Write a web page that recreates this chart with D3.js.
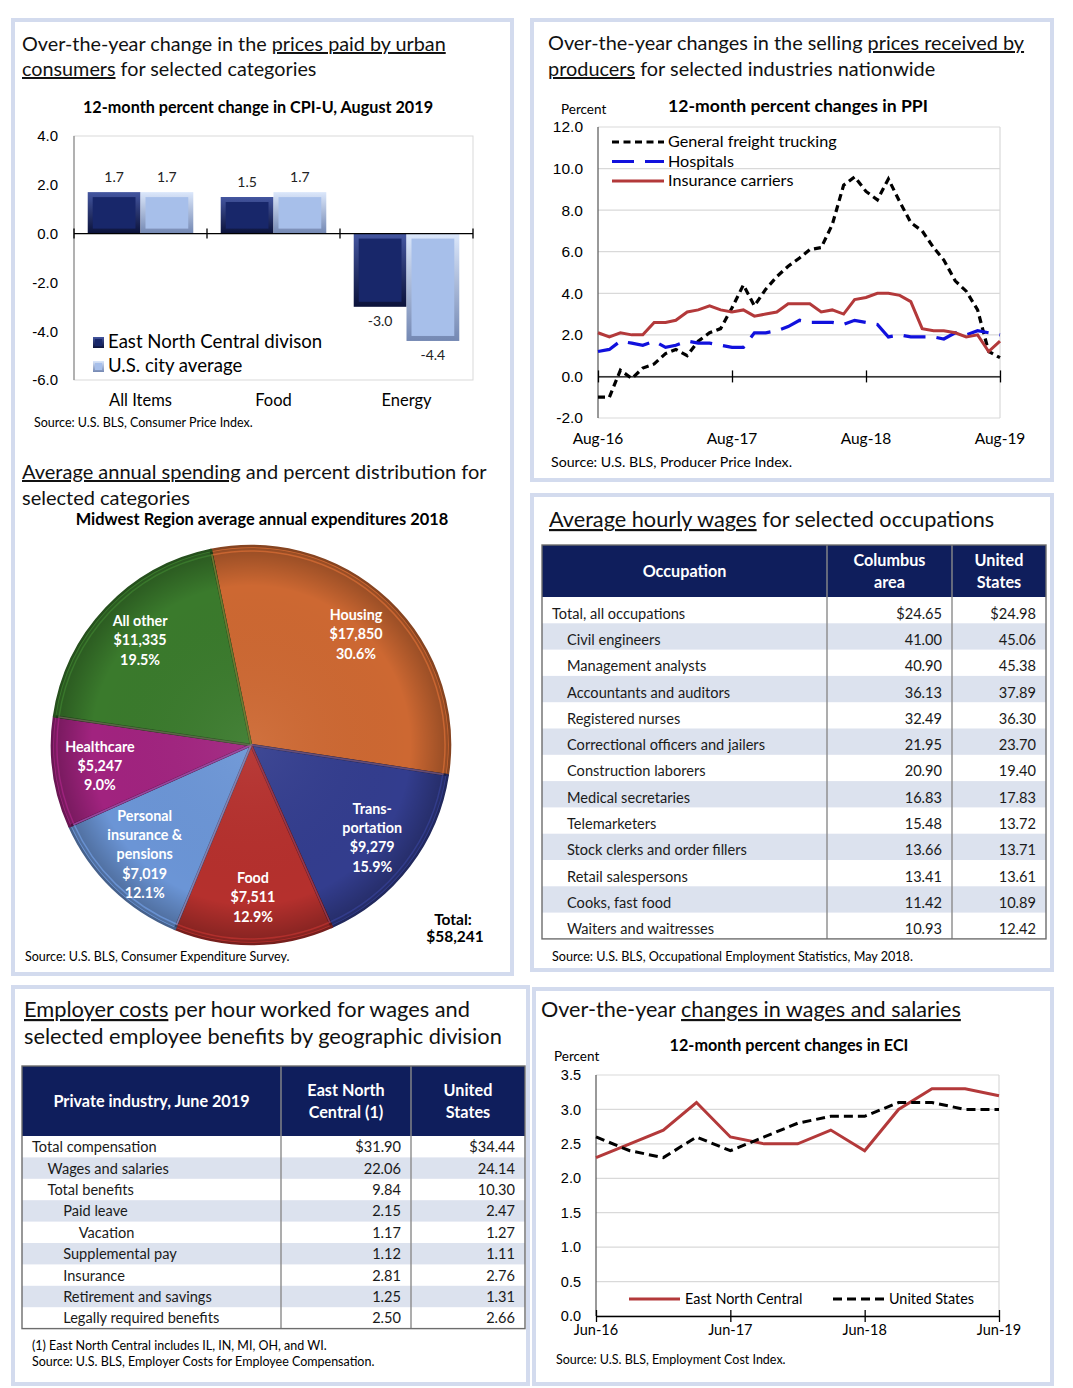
<!DOCTYPE html>
<html>
<head>
<meta charset="utf-8">
<script src="https://cdn.jsdelivr.net/npm/d3@7"></script>
<style>
    body { margin: 0; background: #fff; }
    svg { display: block; font-family: Lato, 'Open Sans', sans-serif; }
</style>
</head>
<body>
<svg id="page" width="1073" height="1388"></svg>
<script>
(function () {
    'use strict';

    // CPI-U, 12-month percent change, August 2019
    var cpiCategories = ['All Items', 'Food', 'Energy'];
    var cpiSeries = ['East North Central divison', 'U.S. city average'];
    var cpiEastNorthCentral = [1.7, 1.5, -3.0];
    var cpiCityAverage = [1.7, 1.7, -4.4];
    var cpiTicks = [4, 2, 0, -2, -4, -6];

    // PPI, 12-month percent changes, Aug-16 .. Aug-19 (monthly)
    var ppiSeries = ['General freight trucking', 'Hospitals', 'Insurance carriers'];
    var ppiTickLabels = ['Aug-16', 'Aug-17', 'Aug-18', 'Aug-19'];
    var ppiFreight = [-1.0, -1.0, 0.3, -0.1, 0.4, 0.6, 1.1, 1.3, 1.0, 1.7, 2.1, 2.3, 3.3, 4.4, 3.4, 4.2, 4.8, 5.3, 5.7,
        6.1, 6.2, 7.3, 9.2, 9.6, 8.9, 8.5, 9.5, 8.4, 7.4, 7.0, 6.2, 5.6, 4.6, 4.1, 3.2, 1.2, 0.9];
    var ppiHospitals = [1.2, 1.3, 1.7, 1.6, 1.5, 1.7, 1.4, 1.5, 1.7, 1.6, 1.6, 1.5, 1.4, 1.4, 2.1, 2.1, 2.2, 2.4, 2.7,
        2.6, 2.6, 2.6, 2.5, 2.7, 2.6, 2.5, 1.9, 2.0, 1.9, 1.9, 1.9, 1.8, 2.1, 2.0, 2.2, 2.1, 2.0];
    var ppiInsurance = [2.1, 1.9, 2.1, 2.0, 2.0, 2.6, 2.6, 2.7, 3.1, 3.2, 3.4, 3.2, 3.1, 3.2, 2.9, 3.0, 3.1, 3.5, 3.5,
        3.5, 3.1, 3.2, 3.0, 3.7, 3.8, 4.0, 4.0, 3.9, 3.6, 2.3, 2.2, 2.2, 2.1, 1.9, 2.0, 1.2, 1.7];
    var ppiTicks = [-2, 0, 2, 4, 6, 8, 10, 12];

    // Midwest average annual expenditures 2018
    var ceCategories = ['Housing', 'Transportation', 'Food', 'Personal insurance & pensions', 'Healthcare', 'All other'];
    var ceLabelLines = [['Housing'], ['Trans-', 'portation'], ['Food'], ['Personal', 'insurance &', 'pensions'], ['Healthcare'], ['All other']];
    var ceSpending = [17850, 9279, 7511, 7019, 5247, 11335];

    // OES average hourly wages, May 2018
    var occupations = ['Total, all occupations', 'Civil engineers', 'Management analysts', 'Accountants and auditors',
        'Registered nurses', 'Correctional officers and jailers', 'Construction laborers', 'Medical secretaries',
        'Telemarketers', 'Stock clerks and order fillers', 'Retail salespersons', 'Cooks, fast food', 'Waiters and waitresses'];
    var columbusWages = [24.65, 41.00, 40.90, 36.13, 32.49, 21.95, 20.90, 16.83, 15.48, 13.66, 13.41, 11.42, 10.93];
    var usWages = [24.98, 45.06, 45.38, 37.89, 36.30, 23.70, 19.40, 17.83, 13.72, 13.71, 13.61, 10.89, 12.42];

    // ECEC, private industry, June 2019
    var costItems = ['Total compensation', 'Wages and salaries', 'Total benefits', 'Paid leave', 'Vacation',
        'Supplemental pay', 'Insurance', 'Retirement and savings', 'Legally required benefits'];
    var costLevels = [0, 1, 1, 2, 3, 2, 2, 2, 2];
    var costEastNorthCentral = [31.90, 22.06, 9.84, 2.15, 1.17, 1.12, 2.81, 1.25, 2.50];
    var costUnitedStates = [34.44, 24.14, 10.30, 2.47, 1.27, 1.11, 2.76, 1.31, 2.66];

    // ECI, 12-month percent changes, Jun-16 .. Jun-19 (quarterly)
    var eciSeries = ['East North Central', 'United States'];
    var eciTickLabels = ['Jun-16', 'Jun-17', 'Jun-18', 'Jun-19'];
    var eciEastNorthCentral = [2.3, 2.5, 2.7, 3.1, 2.6, 2.5, 2.5, 2.7, 2.4, 3.0, 3.3, 3.3, 3.2];
    var eciUnitedStates = [2.6, 2.4, 2.3, 2.6, 2.4, 2.6, 2.8, 2.9, 2.9, 3.1, 3.1, 3.0, 3.0];
    var eciTicks = [0, 0.5, 1, 1.5, 2, 2.5, 3, 3.5];

    var svg = d3.select('#page');
    var defs = svg.append('defs');
    var fixed1 = function (d) { return d.toFixed(1); };
    var fixed2 = function (d) { return d.toFixed(2); };
    var gridColor = '#d9d9d9';

    function txt(g, x, y, str, size, opts) {
        opts = opts || {};
        return g.append('text').attr('x', x).attr('y', y).text(str)
            .attr('font-size', size)
            .attr('font-weight', opts.bold ? 'bold' : null)
            .attr('text-anchor', opts.anchor || 'start')
            .attr('fill', opts.fill || '#000');
    }

    function heading(g, x, y, size, parts) {
        var t = g.append('text').attr('x', x).attr('y', y).attr('font-size', size).attr('fill', '#111');
        parts.forEach(function (p) {
            t.append('tspan').text(p[0]).attr('text-decoration', p[1] ? 'underline' : null);
        });
        return t;
    }

    function panel(x, y, w, h) {
        svg.append('rect').attr('x', x).attr('y', y).attr('width', w).attr('height', h)
            .attr('fill', '#fff').attr('stroke', '#d3dbee').attr('stroke-width', 4);
    }

    panel(13, 20, 499, 954);
    panel(532, 20, 520, 460);
    panel(532, 495, 520, 475);
    panel(13, 987, 515, 397);
    panel(534, 989, 518, 395);

    function styleAxis(g, size) {
        g.select('.domain').remove();
        g.selectAll('text').attr('font-size', size).attr('fill', '#000').attr('font-family', null);
    }

    //----- CPI bars
    function drawCpi() {
        var g = svg.append('g');
        heading(g, 22, 51, 19.8, [['Over-the-year change in the '], ['prices paid by urban', true]]);
        heading(g, 22, 76, 19.8, [['consumers', true], [' for selected categories']]);
        txt(g, 258, 113, '12-month percent change in CPI-U, August 2019', 16.2, {bold: true, anchor: 'middle'});

        var left = 74, right = 473, top = 136, bottom = 380;
        var x = d3.scaleBand().domain(cpiCategories).range([left, right]);
        var xs = d3.scaleBand().domain(cpiSeries).range([0, x.bandwidth()]).paddingOuter(0.26);
        var y = d3.scaleLinear().domain([-6, 4]).range([bottom, top]);

        g.append('rect').attr('x', left).attr('y', top).attr('width', right - left).attr('height', bottom - top)
            .attr('fill', 'none').attr('stroke', gridColor);
        g.append('line').attr('x1', left).attr('x2', left).attr('y1', top).attr('y2', bottom).attr('stroke', '#777');

        var yAxis = g.append('g').attr('transform', 'translate(' + left + ',0)')
            .call(d3.axisLeft(y).tickValues(cpiTicks).tickFormat(fixed1).tickSize(0).tickPadding(16));
        styleAxis(yAxis, 15);

        var bevels = [
            {id: 'bevDark', top: '#4456a0', bottom: '#0b123a', fill: '#18276a'},
            {id: 'bevLight', top: '#dbe7fb', bottom: '#7488b3', fill: '#a7bfea'}
        ];
        bevels.forEach(function (b) {
            var lg = defs.append('linearGradient').attr('id', b.id).attr('x1', 0).attr('x2', 0).attr('y1', 0).attr('y2', 1);
            lg.append('stop').attr('offset', '0%').attr('stop-color', b.top);
            lg.append('stop').attr('offset', '100%').attr('stop-color', b.bottom);
        });

        var seriesValues = [cpiEastNorthCentral, cpiCityAverage];
        seriesValues.forEach(function (vals, si) {
            cpiCategories.forEach(function (cat, ci) {
                var v = vals[ci];
                var bx = x(cat) + xs(cpiSeries[si]);
                var bw = xs.bandwidth();
                var y0 = Math.min(y(v), y(0)), h = Math.abs(y(v) - y(0));
                g.append('rect').attr('x', bx).attr('y', y0).attr('width', bw).attr('height', h)
                    .attr('fill', 'url(#' + bevels[si].id + ')');
                g.append('rect').attr('x', bx + 5).attr('y', y0 + 5).attr('width', bw - 10).attr('height', Math.max(0, h - 10))
                    .attr('fill', bevels[si].fill);
                var ly = v >= 0 ? y(v) - 10 : y(v) + 19;
                txt(g, bx + bw / 2, ly, fixed1(v), 14, {anchor: 'middle', fill: '#222'});
            });
        });

        // zero line with category separators
        g.append('line').attr('x1', left).attr('x2', right).attr('y1', y(0)).attr('y2', y(0)).attr('stroke', '#000').attr('stroke-width', 1.3);
        cpiCategories.concat(['end']).forEach(function (cat, i) {
            var tx = i < cpiCategories.length ? x(cat) : right;
            g.append('line').attr('x1', tx).attr('x2', tx).attr('y1', y(0) - 5).attr('y2', y(0) + 5).attr('stroke', '#000').attr('stroke-width', 1.3);
        });

        cpiCategories.forEach(function (cat) {
            txt(g, x(cat) + x.bandwidth() / 2, bottom + 26, cat, 16.5, {anchor: 'middle'});
        });

        // legend
        cpiSeries.forEach(function (s, i) {
            var ly = 342 + i * 24;
            g.append('rect').attr('x', 93).attr('y', ly - 5).attr('width', 11).attr('height', 11)
                .attr('fill', 'url(#' + bevels[i].id + ')');
            g.append('rect').attr('x', 95).attr('y', ly - 3).attr('width', 7).attr('height', 7).attr('fill', bevels[i].fill);
            txt(g, 108, ly + 6, s, 18.6);
        });

        txt(g, 34, 427, 'Source: U.S. BLS, Consumer Price Index.', 12.5);
    }

    //----- CE pie
    function drawPie() {
        var g = svg.append('g');
        heading(g, 22, 479, 20, [['Average annual spending', true], [' and percent distribution for']]);
        heading(g, 22, 505, 20, [['selected categories']]);
        txt(g, 262, 525, 'Midwest Region average annual expenditures 2018', 16.4, {bold: true, anchor: 'middle'});

        var cx = 251, cy = 745, r = 199;
        var colors = ['#cd6832', '#333d8e', '#b5302d', '#6b95d6', '#a1237f', '#3a7a2c'];
        var total = d3.sum(ceSpending);
        var offset = -0.203;
        var pie = d3.pie().sort(null).startAngle(offset).endAngle(2 * Math.PI + offset);
        var arcs = pie(ceSpending);
        var arc = d3.arc().innerRadius(0).outerRadius(r);
        var labelArc = d3.arc().innerRadius(100).outerRadius(205);

        var rg = defs.append('radialGradient').attr('id', 'pieShade').attr('gradientUnits', 'userSpaceOnUse')
            .attr('cx', 0).attr('cy', 0).attr('r', r);
        rg.append('stop').attr('offset', '0%').attr('stop-color', '#fff').attr('stop-opacity', 0.06);
        rg.append('stop').attr('offset', '80%').attr('stop-color', '#000').attr('stop-opacity', 0);
        rg.append('stop').attr('offset', '100%').attr('stop-color', '#000').attr('stop-opacity', 0.28);

        var pg = g.append('g').attr('transform', 'translate(' + cx + ',' + cy + ')');
        pg.selectAll('path.slice').data(arcs).enter().append('path')
            .attr('class', 'slice')
            .attr('d', arc)
            .attr('fill', function (d, i) { return colors[i]; })
            .attr('stroke', function (d, i) { return d3.color(colors[i]).darker(1.2); })
            .attr('stroke-width', 2.5)
            .attr('stroke-linejoin', 'round');
        pg.selectAll('path.shade').data(arcs).enter().append('path')
            .attr('class', 'shade')
            .attr('d', d3.arc().innerRadius(0).outerRadius(r - 2))
            .attr('fill', 'url(#pieShade)');
        pg.selectAll('path.hi').data(arcs).enter().append('path')
            .attr('class', 'hi')
            .attr('d', d3.arc().innerRadius(0).outerRadius(r - 5))
            .attr('fill', 'none')
            .attr('stroke', function (d, i) { return d3.color(colors[i]).brighter(0.5); })
            .attr('stroke-opacity', 0.5)
            .attr('stroke-width', 1.5);

        var money = d3.format('$,');
        var pct = d3.format('.1%');
        arcs.forEach(function (d, i) {
            var c = labelArc.centroid(d);
            var lines = ceLabelLines[i].concat([money(ceSpending[i]), pct(ceSpending[i] / total)]);
            var lh = 19.3;
            var y0 = c[1] - (lines.length - 1) * lh / 2 + 5;
            lines.forEach(function (ln, k) {
                txt(pg, c[0], y0 + k * lh, ln, 14.3, {bold: true, anchor: 'middle', fill: '#fff'});
            });
        });

        txt(g, 453, 925, 'Total:', 15.5, {bold: true, anchor: 'middle'});
        txt(g, 455, 942, money(total), 15.5, {bold: true, anchor: 'middle'});
        txt(g, 25, 961, 'Source: U.S. BLS, Consumer Expenditure Survey.', 12.5);
    }

    //----- generic line chart
    function drawLines(g, cfg) {
        var x = d3.scaleTime().domain(d3.extent(cfg.dates)).range([cfg.left, cfg.right]);
        var y = d3.scaleLinear().domain(cfg.domain).range([cfg.bottom, cfg.top]);

        g.append('g').selectAll('line').data(cfg.ticks).enter().append('line')
            .attr('x1', cfg.left).attr('x2', cfg.right)
            .attr('y1', function (d) { return y(d); }).attr('y2', function (d) { return y(d); })
            .attr('stroke', gridColor).attr('stroke-width', 1.2);
        g.append('line').attr('x1', cfg.right).attr('x2', cfg.right).attr('y1', cfg.top).attr('y2', cfg.bottom).attr('stroke', gridColor).attr('stroke-width', 1.2);
        g.append('line').attr('x1', cfg.left).attr('x2', cfg.left).attr('y1', cfg.top).attr('y2', cfg.bottom).attr('stroke', '#555').attr('stroke-width', 1.2);

        var yAxis = g.append('g').attr('transform', 'translate(' + cfg.left + ',0)')
            .call(d3.axisLeft(y).tickValues(cfg.ticks).tickFormat(fixed1).tickSize(0).tickPadding(15));
        styleAxis(yAxis, cfg.fontSize);

        // base line with year ticks
        var xAxis = g.append('g').attr('transform', 'translate(0,' + y(0) + ')')
            .call(d3.axisBottom(x).tickValues(cfg.tickDates).tickSizeInner(6).tickSizeOuter(0).tickFormat(''));
        xAxis.select('.domain').attr('stroke', '#000').attr('stroke-width', 1.3);
        xAxis.selectAll('.tick line').attr('stroke', '#000').attr('stroke-width', 1.3).attr('y1', -6).attr('y2', 6);
        cfg.tickDates.forEach(function (d, i) {
            txt(g, x(d), cfg.labelY, cfg.tickLabels[i], cfg.fontSize, {anchor: 'middle'});
        });

        var line = d3.line().x(function (d) { return x(d.date); }).y(function (d) { return y(d.v); });
        cfg.series.forEach(function (s) {
            var pts = cfg.dates.map(function (d, i) { return {date: d, v: s.values[i]}; });
            g.append('path').datum(pts).attr('d', line).attr('fill', 'none')
                .attr('stroke', s.color).attr('stroke-width', s.width)
                .attr('stroke-dasharray', s.dash);
        });
    }

    function drawPpi() {
        var g = svg.append('g');
        heading(g, 548, 50, 19.9, [['Over-the-year changes in the selling '], ['prices received by', true]]);
        heading(g, 548, 76, 19.9, [['producers', true], [' for selected industries nationwide']]);
        txt(g, 561, 114, 'Percent', 13.5);
        txt(g, 798, 112, '12-month percent changes in PPI', 17.6, {bold: true, anchor: 'middle'});

        var dates = d3.timeMonth.range(new Date(2016, 7, 1), new Date(2019, 8, 1));
        var series = [
            {name: ppiSeries[0], values: ppiFreight, color: '#000', width: 3.2, dash: '7,4.5'},
            {name: ppiSeries[1], values: ppiHospitals, color: '#1111dd', width: 3.2, dash: '22,11'},
            {name: ppiSeries[2], values: ppiInsurance, color: '#b3393a', width: 3, dash: null}
        ];
        drawLines(g, {
            dates: dates, domain: [-2, 12], ticks: ppiTicks,
            left: 598, right: 1000, top: 127, bottom: 418,
            tickDates: [dates[0], dates[12], dates[24], dates[36]], tickLabels: ppiTickLabels,
            labelY: 444, fontSize: 15.5, series: series
        });
        series.forEach(function (s, i) {
            var ly = 142 + i * 19.5;
            g.append('line').attr('x1', 612).attr('x2', 664).attr('y1', ly).attr('y2', ly)
                .attr('stroke', s.color).attr('stroke-width', s.width).attr('stroke-dasharray', s.dash);
            txt(g, 668, ly + 5, s.name, 16.2);
        });
        txt(g, 551, 467, 'Source: U.S. BLS, Producer Price Index.', 14.2);
    }

    function drawEci() {
        var g = svg.append('g');
        heading(g, 541, 1017, 21.6, [['Over-the-year '], ['changes in wages and salaries', true]]);
        txt(g, 789, 1051, '12-month percent changes in ECI', 16.2, {bold: true, anchor: 'middle'});
        txt(g, 554, 1061, 'Percent', 13.5);

        var dates = d3.range(eciEastNorthCentral.length).map(function (i) { return new Date(2016, 5 + 3 * i, 1); });
        var series = [
            {name: eciSeries[0], values: eciEastNorthCentral, color: '#b3393a', width: 3, dash: null},
            {name: eciSeries[1], values: eciUnitedStates, color: '#000', width: 3, dash: '9,5'}
        ];
        drawLines(g, {
            dates: dates, domain: [0, 3.5], ticks: eciTicks,
            left: 596, right: 999, top: 1075, bottom: 1316,
            tickDates: [dates[0], dates[4], dates[8], dates[12]], tickLabels: eciTickLabels,
            labelY: 1335, fontSize: 14.5, series: series
        });
        var lx = [629, 833];
        series.forEach(function (s, i) {
            g.append('line').attr('x1', lx[i]).attr('x2', lx[i] + 51).attr('y1', 1299).attr('y2', 1299)
                .attr('stroke', s.color).attr('stroke-width', s.width).attr('stroke-dasharray', s.dash);
            txt(g, lx[i] + 56, 1304, s.name, 14.4);
        });
        txt(g, 556, 1364, 'Source: U.S. BLS, Employment Cost Index.', 12.5);
    }

    //----- tables
    function drawTable(g, cfg) {
        var navy = '#0f1e5c';
        var width = cfg.cols[cfg.cols.length - 1] - cfg.cols[0];
        g.append('rect').attr('x', cfg.cols[0]).attr('y', cfg.top).attr('width', width).attr('height', cfg.headH).attr('fill', navy);
        cfg.header.forEach(function (lines, c) {
            var cxm = (cfg.cols[c] + cfg.cols[c + 1]) / 2;
            var ymid = cfg.top + cfg.headH / 2;
            lines.forEach(function (ln, k) {
                var yy = ymid + (k - (lines.length - 1) / 2) * 22 + 5.5;
                txt(g, cxm, yy, ln, 16.2, {bold: true, anchor: 'middle', fill: '#fff'});
            });
        });
        var y0 = cfg.top + cfg.headH;
        cfg.labels.forEach(function (lab, i) {
            var ry = y0 + i * cfg.rowH;
            if (i % 2 === 1) {
                g.append('rect').attr('x', cfg.cols[0]).attr('y', ry).attr('width', width).attr('height', cfg.rowH).attr('fill', '#dce2ee');
            }
            var ty = ry + cfg.rowH / 2 + 5 + cfg.textDy;
            txt(g, cfg.cols[0] + cfg.indent0 + cfg.levels[i] * cfg.indentStep, ty, lab, cfg.fontSize, {fill: '#1a1a1a'});
            cfg.values.forEach(function (vals, c) {
                var s = fixed2(vals[i]);
                if (i === 0) s = '$' + s;
                txt(g, cfg.cols[c + 2] - cfg.padRight, ty, s, cfg.fontSize, {anchor: 'end', fill: '#1a1a1a'});
            });
        });
        var bottom = y0 + cfg.labels.length * cfg.rowH;
        [cfg.cols[1], cfg.cols[2]].forEach(function (cx) {
            g.append('line').attr('x1', cx).attr('x2', cx).attr('y1', cfg.top).attr('y2', bottom).attr('stroke', '#8a8a8a').attr('stroke-width', 1.4);
        });
        g.append('rect').attr('x', cfg.cols[0]).attr('y', cfg.top).attr('width', width).attr('height', bottom - cfg.top)
            .attr('fill', 'none').attr('stroke', '#6d6d6d').attr('stroke-width', 1.4);
    }

    function drawWages() {
        var g = svg.append('g');
        heading(g, 549, 527, 21.7, [['Average hourly wages', true], [' for selected occupations']]);
        drawTable(g, {
            cols: [542, 827, 952, 1046], top: 545, headH: 52, rowH: 26.3,
            header: [['Occupation'], ['Columbus', 'area'], ['United', 'States']],
            labels: occupations, levels: occupations.map(function (d, i) { return i === 0 ? 0 : 1; }),
            values: [columbusWages, usWages], indent0: 10, indentStep: 15, padRight: 10, fontSize: 14.6, textDy: 3.5
        });
        txt(g, 552, 961, 'Source: U.S. BLS, Occupational Employment Statistics, May 2018.', 12.6);
    }

    function drawCosts() {
        var g = svg.append('g');
        heading(g, 24, 1017, 21.8, [['Employer costs', true], [' per hour worked for wages and']]);
        heading(g, 24, 1044, 21.8, [['selected employee benefits by geographic division']]);
        drawTable(g, {
            cols: [22, 281, 411, 525], top: 1066, headH: 70, rowH: 21.4,
            header: [['Private industry, June 2019'], ['East North', 'Central (1)'], ['United', 'States']],
            labels: costItems, levels: costLevels,
            values: [costEastNorthCentral, costUnitedStates], indent0: 10, indentStep: 15.6, padRight: 10, fontSize: 14.6, textDy: 0.5
        });
        txt(g, 32, 1350, '(1) East North Central includes IL, IN, MI, OH, and WI.', 12.5);
        txt(g, 32, 1366, 'Source: U.S. BLS, Employer Costs for Employee Compensation.', 12.5);
    }

    drawCpi();
    drawPie();
    drawPpi();
    drawWages();
    drawCosts();
    drawEci();
})();
</script>
</body>
</html>
